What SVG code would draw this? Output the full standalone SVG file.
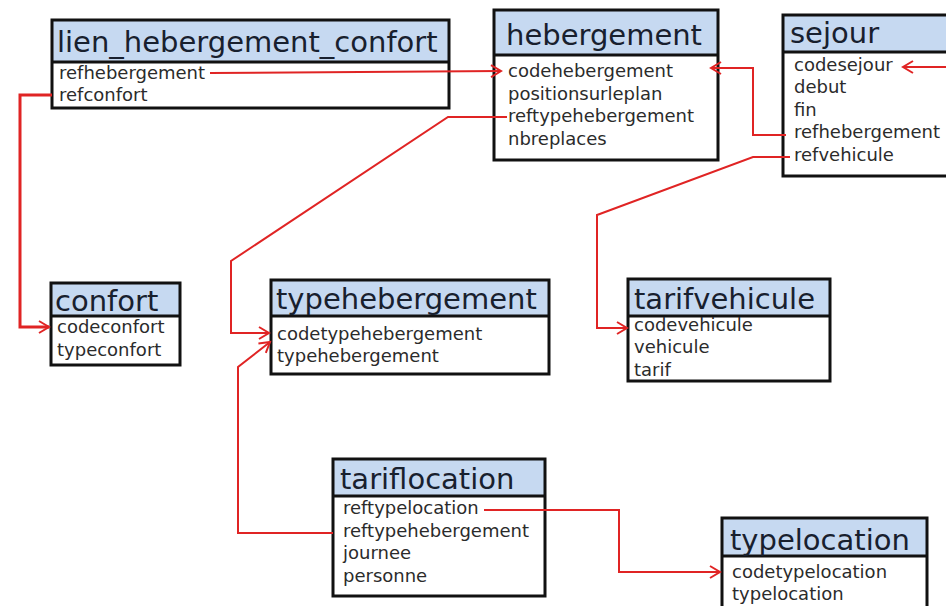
<svg xmlns="http://www.w3.org/2000/svg" width="946" height="606" viewBox="0 0 946 606">
<defs>
<style>
.bg{fill:#fff}
.hdr{fill:#c6d9f1}
.box{fill:none;stroke:#111;stroke-width:3}
.dv{stroke:#111;stroke-width:3}
.t{font-family:"DejaVu Sans",sans-serif;font-size:29px;fill:#18202e}
.f{font-family:"DejaVu Sans",sans-serif;font-size:18px;fill:#2b2b2b}
.c{fill:none;stroke:#e02424;stroke-width:2;marker-end:url(#arr)}
</style>
<marker id="arr" markerUnits="userSpaceOnUse" markerWidth="14" markerHeight="14" refX="11" refY="7" orient="auto">
<path d="M1,1 L11,7 L1,13" fill="none" stroke="#e02424" stroke-width="2"/>
</marker>
</defs>
<rect width="946" height="606" fill="#fff"/>

<g id="lien_hebergement_confort">
<rect class="bg" x="52" y="20" width="397" height="88"/>
<rect class="hdr" x="52" y="20" width="397" height="42"/>
<rect class="box" x="52" y="20" width="397" height="88"/>
<line class="dv" x1="52" y1="62" x2="449" y2="62"/>
<text class="t" x="57" y="52">lien_hebergement_confort</text>
<text class="f" x="59" y="79">refhebergement</text>
<text class="f" x="59" y="101">refconfort</text>
</g>

<g id="hebergement">
<rect class="bg" x="494" y="10" width="224" height="150"/>
<rect class="hdr" x="494" y="10" width="224" height="45"/>
<rect class="box" x="494" y="10" width="224" height="150"/>
<line class="dv" x1="494" y1="55" x2="718" y2="55"/>
<text class="t" x="506" y="45">hebergement</text>
<text class="f" x="508" y="77">codehebergement</text>
<text class="f" x="508" y="100">positionsurleplan</text>
<text class="f" x="508" y="122">reftypehebergement</text>
<text class="f" x="508" y="145">nbreplaces</text>
</g>

<g id="sejour">
<rect class="bg" x="783" y="15" width="175" height="161"/>
<rect class="hdr" x="783" y="15" width="175" height="37"/>
<rect class="box" x="783" y="15" width="175" height="161"/>
<line class="dv" x1="783" y1="52" x2="958" y2="52"/>
<text class="t" x="790" y="43">sejour</text>
<text class="f" x="794" y="71">codesejour</text>
<text class="f" x="794" y="93">debut</text>
<text class="f" x="794" y="116">fin</text>
<text class="f" x="794" y="138">refhebergement</text>
<text class="f" x="794" y="161">refvehicule</text>
</g>

<g id="confort">
<rect class="bg" x="51" y="283" width="129" height="82"/>
<rect class="hdr" x="51" y="283" width="129" height="33"/>
<rect class="box" x="51" y="283" width="129" height="82"/>
<line class="dv" x1="51" y1="316" x2="180" y2="316"/>
<text class="t" x="55" y="311">confort</text>
<text class="f" x="57" y="333">codeconfort</text>
<text class="f" x="57" y="356">typeconfort</text>
</g>

<g id="typehebergement">
<rect class="bg" x="271" y="280" width="278" height="94"/>
<rect class="hdr" x="271" y="280" width="278" height="36"/>
<rect class="box" x="271" y="280" width="278" height="94"/>
<line class="dv" x1="271" y1="316" x2="549" y2="316"/>
<text class="t" x="276" y="309">typehebergement</text>
<text class="f" x="277" y="340">codetypehebergement</text>
<text class="f" x="277" y="362">typehebergement</text>
</g>

<g id="tarifvehicule">
<rect class="bg" x="628" y="279" width="202" height="102"/>
<rect class="hdr" x="628" y="279" width="202" height="37"/>
<rect class="box" x="628" y="279" width="202" height="102"/>
<line class="dv" x1="628" y1="316" x2="830" y2="316"/>
<text class="t" x="634" y="309">tarifvehicule</text>
<text class="f" x="634" y="331">codevehicule</text>
<text class="f" x="634" y="353">vehicule</text>
<text class="f" x="634" y="376">tarif</text>
</g>

<g id="tariflocation">
<rect class="bg" x="333" y="459" width="212" height="137"/>
<rect class="hdr" x="333" y="459" width="212" height="37"/>
<rect class="box" x="333" y="459" width="212" height="137"/>
<line class="dv" x1="333" y1="496" x2="545" y2="496"/>
<text class="t" x="340" y="489">tariflocation</text>
<text class="f" x="343" y="514">reftypelocation</text>
<text class="f" x="343" y="537">reftypehebergement</text>
<text class="f" x="343" y="559">journee</text>
<text class="f" x="343" y="582">personne</text>
</g>

<g id="typelocation">
<rect class="bg" x="722" y="518" width="205" height="100"/>
<rect class="hdr" x="722" y="518" width="205" height="38"/>
<rect class="box" x="722" y="518" width="205" height="100"/>
<line class="dv" x1="722" y1="556" x2="927" y2="556"/>
<text class="t" x="730" y="550">typelocation</text>
<text class="f" x="732" y="578">codetypelocation</text>
<text class="f" x="732" y="600">typelocation</text>
</g>

<g id="connectors">
<path class="c" d="M210,73 L501,71"/>
<path class="c" style="stroke-width:3" d="M52,95 L20,95 L20,327 L49,327"/>
<path class="c" d="M507,117 L448,117 L231,261 L231,333 L269,333"/>
<path class="c" d="M333,533 L238,533 L238,367 L270,342"/>
<path class="c" d="M786,135 L753,135 L753,68 L711,68"/>
<path class="c" d="M790,157 L753,157 L597,215 L597,328 L627,328"/>
<path class="c" d="M946,67 L903,67"/>
<path class="c" d="M484,510 L619,510 L619,572 L720,572"/>
</g>
</svg>
